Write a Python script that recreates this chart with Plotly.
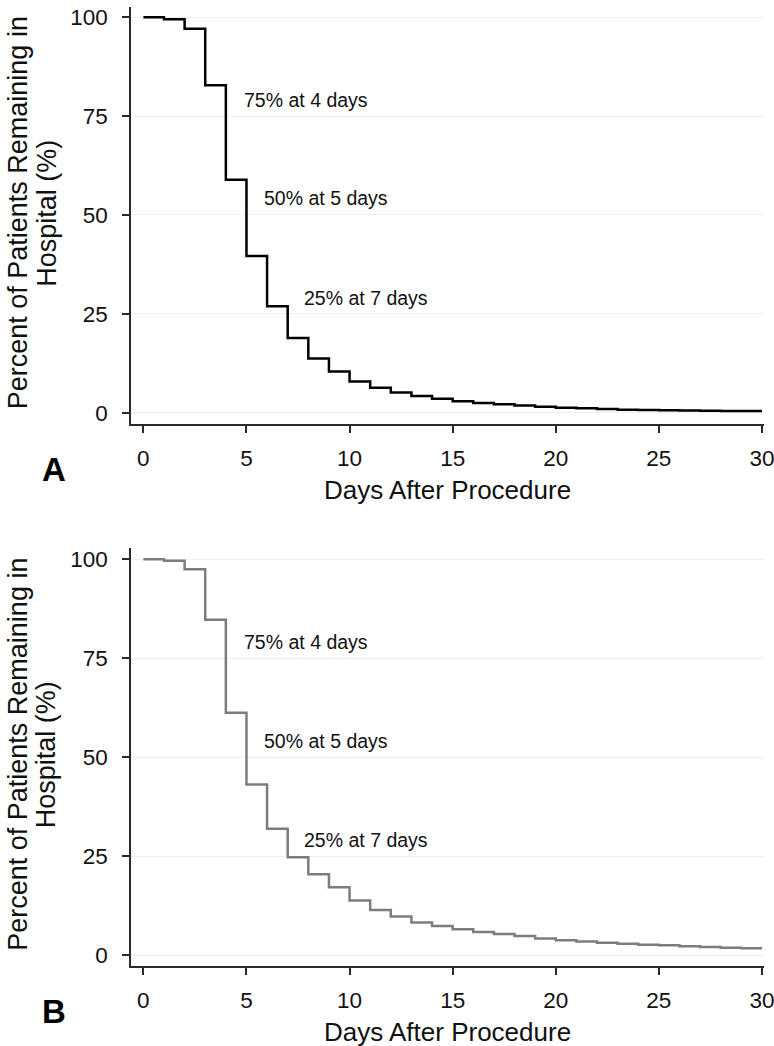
import plotly.graph_objects as go

# ---------------- data ----------------
days = list(range(0, 31))
x_tick_vals = [0, 5, 10, 15, 20, 25, 30]
y_tick_vals = [0, 25, 50, 75, 100]

# percent remaining in hospital for each day interval [d, d+1)
panel_a_pct = [100, 99.5, 97.1, 82.8, 58.9, 39.6, 26.9, 18.9, 13.7, 10.4,
               7.9, 6.3, 5.1, 4.2, 3.5, 2.9, 2.45, 2.1, 1.8, 1.5,
               1.25, 1.1, 0.9, 0.75, 0.65, 0.6, 0.55, 0.5, 0.45, 0.4]
panel_b_pct = [100, 99.6, 97.5, 84.7, 61.2, 43.1, 31.9, 24.7, 20.4, 17.1,
               13.8, 11.4, 9.7, 8.2, 7.3, 6.5, 5.8, 5.3, 4.8, 4.2,
               3.7, 3.4, 3.1, 2.85, 2.6, 2.45, 2.2, 2.0, 1.85, 1.7]

median_labels = ["75% at 4 days", "50% at 5 days", "25% at 7 days"]
panel_labels = ["A", "B"]
x_title = "Days After Procedure"
y_title_lines = ["Percent of Patients Remaining in", "Hospital (%)"]

# ---------------- figure ----------------
FONT = "Liberation Sans, Arial, Helvetica, sans-serif"

fig = go.Figure()
fig.add_trace(go.Scatter(x=days, y=panel_a_pct + [panel_a_pct[-1]], mode="lines",
                         line=dict(color="#000000", width=2.5, shape="hv"),
                         xaxis="x", yaxis="y", hoverinfo="x+y"))
fig.add_trace(go.Scatter(x=days, y=panel_b_pct + [panel_b_pct[-1]], mode="lines",
                         line=dict(color="#7d7d7d", width=2.5, shape="hv"),
                         xaxis="x2", yaxis="y2", hoverinfo="x+y"))

axis_common = dict(showline=True, linecolor="#2a2a2a", linewidth=1.5,
                   ticks="outside", ticklen=7, tickwidth=1.5, tickcolor="#2a2a2a",
                   zeroline=False, mirror=False, automargin=False,
                   ticklabeloverflow="allow",
                   tickfont=dict(family=FONT, size=22.5, color="#111111"))

xax = dict(axis_common, range=[-0.6, 30.1], tickvals=x_tick_vals, showgrid=False,
           ticklabelstandoff=6)
yax = dict(axis_common, tickvals=y_tick_vals, showgrid=True, gridcolor="#efefef",
           gridwidth=1, ticklabelstandoff=10)

fig.update_layout(
    width=774, height=1046,
    margin=dict(l=131, r=10, t=7, b=80),
    paper_bgcolor="white", plot_bgcolor="white",
    showlegend=False,
    xaxis=dict(xax, domain=[0, 1], anchor="y"),
    yaxis=dict(yax, domain=[0.5652, 1], range=[-2.86, 102.6], anchor="x"),
    xaxis2=dict(xax, domain=[0, 1], anchor="y2"),
    yaxis2=dict(yax, domain=[0, 0.4359], range=[-2.78, 102.86], anchor="x2"),
)

annot_pos = [(4.78, 79.2), (5.75, 54.2), (7.68, 29.1)]
for xr, yr in (("x", "y"), ("x2", "y2")):
    for txt, (ax_, ay_) in zip(median_labels, annot_pos):
        fig.add_annotation(x=ax_, y=ay_, xref=xr, yref=yr, text=txt, showarrow=False,
                           xanchor="left", yanchor="middle",
                           font=dict(family=FONT, size=19.5, color="#111111"))

for i, (xr, yr) in enumerate((("x", "y"), ("x2", "y2"))):
    # x-axis title
    fig.add_annotation(x=0.5, y=-0.158, xref=f"{xr} domain", yref=f"{yr} domain",
                       text=x_title, showarrow=False, xanchor="center", yanchor="middle",
                       font=dict(family=FONT, size=26, color="#111111"))
    # y-axis title (two lines)
    for j, (line, xd) in enumerate(zip(y_title_lines, (-0.178, -0.133))):
        fig.add_annotation(x=xd, y=0.506, xref=f"{xr} domain", yref=f"{yr} domain",
                           text=line, showarrow=False, textangle=-90,
                           xanchor="center", yanchor="middle",
                           font=dict(family=FONT, size=27, color="#111111"))
    # panel label
    fig.add_annotation(x=-0.122, y=-0.108, xref=f"{xr} domain", yref=f"{yr} domain",
                       text=f"<b>{panel_labels[i]}</b>", showarrow=False,
                       xanchor="center", yanchor="middle",
                       font=dict(family=FONT, size=33, color="#000000"))

fig.write_html("out.html", config={"displayModeBar": False},
               post_script="document.body.style.margin='0';")
